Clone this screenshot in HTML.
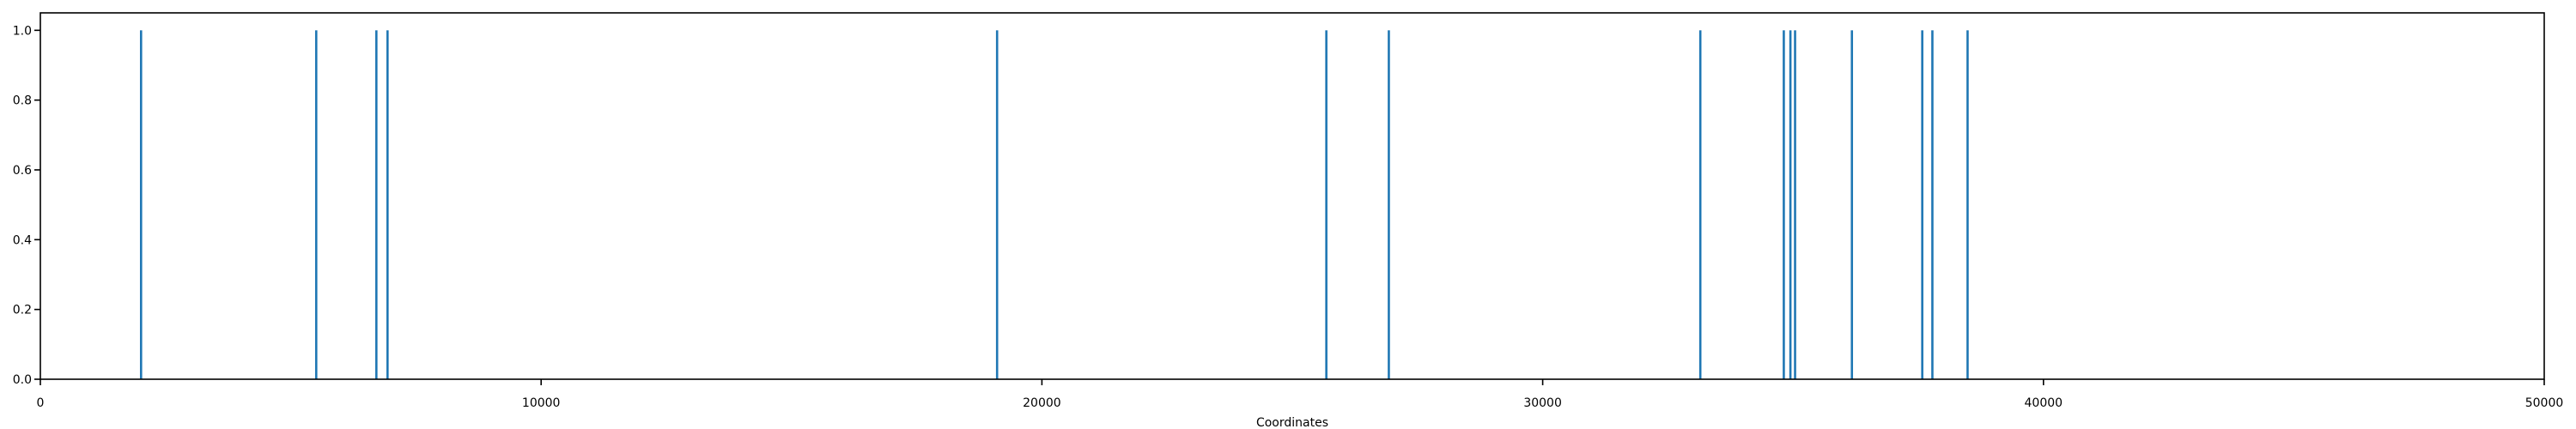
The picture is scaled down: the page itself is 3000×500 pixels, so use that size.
<!DOCTYPE html>
<html><head><meta charset="utf-8"><style>
html,body{margin:0;padding:0;background:#fff;}
svg{display:block;font-family:"DejaVu Sans","Liberation Sans",sans-serif;}
</style></head><body>
<svg id="chart" width="3000" height="500">
<rect x="0" y="0" width="3000" height="500" fill="#fff"/>
<g id="bars"></g>
<g id="axes"></g>
</svg>
<script>
const positions = [2011, 5509, 6710, 6933, 19105, 25680, 26928, 33148, 34815, 34947, 35040, 36175, 37580, 37782, 38485];
const values = [1, 1, 1, 1, 1, 1, 1, 1, 1, 1, 1, 1, 1, 1, 1];
const xTicks = [0, 10000, 20000, 30000, 40000, 50000];
const yTicks = [0.0, 0.2, 0.4, 0.6, 0.8, 1.0];

const L = 47, R = 2963, T = 15, B = 442;
const xMax = 50000, yMax = 1.05;
function xs(v){ return L + (v / xMax) * (R - L); }
function ys(v){ return B - (v / yMax) * (B - T); }
const NS = "http://www.w3.org/2000/svg";
const barsG = document.getElementById('bars');
const axesG = document.getElementById('axes');

positions.forEach((p, i) => {
  const r = document.createElementNS(NS, 'rect');
  const w = 2.6;
  r.setAttribute('x', xs(p) - w / 2);
  r.setAttribute('y', ys(values[i]));
  r.setAttribute('width', w);
  r.setAttribute('height', ys(0) - ys(values[i]));
  r.setAttribute('fill', '#1f77b4');
  
  
  barsG.appendChild(r);
});

const frame = document.createElementNS(NS, 'rect');
frame.setAttribute('x', L); frame.setAttribute('y', T);
frame.setAttribute('width', R - L); frame.setAttribute('height', B - T);
frame.setAttribute('fill', 'none'); frame.setAttribute('stroke', '#000'); frame.setAttribute('stroke-width', '1.6');


axesG.appendChild(frame);

xTicks.forEach(t => {
  const x = xs(t);
  const ln = document.createElementNS(NS, 'line');
  ln.setAttribute('x1', x); ln.setAttribute('x2', x);
  ln.setAttribute('y1', B); ln.setAttribute('y2', B + 7);
  ln.setAttribute('stroke', '#000'); ln.setAttribute('stroke-width', '1.6');
  
  
  axesG.appendChild(ln);
  const tx = document.createElementNS(NS, 'text');
  tx.setAttribute('x', x); tx.setAttribute('y', B + 32);
  tx.setAttribute('text-anchor', 'middle'); tx.setAttribute('font-size', '14');
  tx.textContent = String(t);
  
  
  axesG.appendChild(tx);
});

yTicks.forEach(t => {
  const y = ys(t);
  const ln = document.createElementNS(NS, 'line');
  ln.setAttribute('x1', L - 7); ln.setAttribute('x2', L);
  ln.setAttribute('y1', y); ln.setAttribute('y2', y);
  ln.setAttribute('stroke', '#000'); ln.setAttribute('stroke-width', '1.6');
  
  
  axesG.appendChild(ln);
  const tx = document.createElementNS(NS, 'text');
  tx.setAttribute('x', L - 10); tx.setAttribute('y', y + 5);
  tx.setAttribute('text-anchor', 'end'); tx.setAttribute('font-size', '14');
  tx.textContent = t.toFixed(1);
  
  
  axesG.appendChild(tx);
});

const xl = document.createElementNS(NS, 'text');
xl.setAttribute('x', (L + R) / 2); xl.setAttribute('y', 497);
xl.setAttribute('text-anchor', 'middle'); xl.setAttribute('font-size', '14');
xl.textContent = 'Coordinates';


axesG.appendChild(xl);
</script>
</body></html>
